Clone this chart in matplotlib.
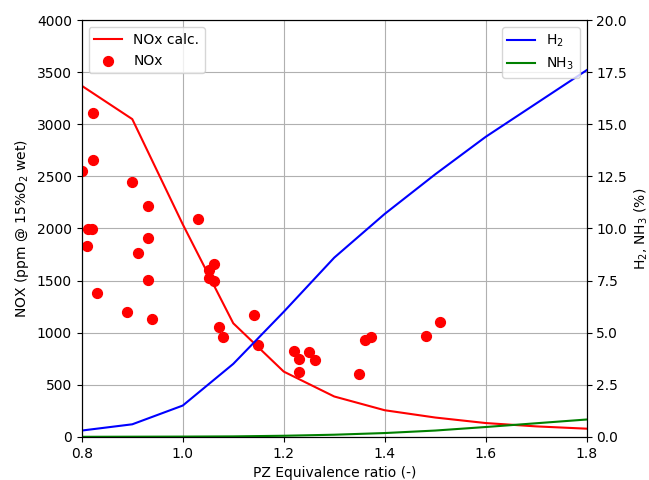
import matplotlib.pyplot as plt

# calculated curves vs equivalence ratio
phi = [0.8, 0.9, 1.0, 1.1, 1.2, 1.3, 1.4, 1.5, 1.6, 1.7, 1.8]
nox_calc = [3370, 3050, 2040, 1090, 626, 387, 255, 185, 132, 100, 78]
h2 = [0.3, 0.6, 1.5, 3.5, 6.0, 8.6, 10.7, 12.6, 14.4, 16.0, 17.6]
nh3 = [0.0, 0.005, 0.01, 0.02, 0.05, 0.1, 0.18, 0.3, 0.47, 0.65, 0.83]

# measured NOx
phi_meas = [0.801, 0.822, 0.822, 0.812, 0.820, 0.810, 0.830, 0.889, 0.900, 0.911,
            0.931, 0.931, 0.931, 0.940, 1.030, 1.051, 1.061, 1.051, 1.061, 1.072,
            1.080, 1.142, 1.150, 1.220, 1.230, 1.230, 1.251, 1.261, 1.350, 1.360,
            1.372, 1.481, 1.510]
nox_meas = [2555, 3105, 2655, 1995, 1995, 1830, 1380, 1195, 2445, 1765,
            2215, 1905, 1505, 1130, 2090, 1605, 1655, 1525, 1500, 1055,
            962, 1167, 885, 828, 748, 626, 818, 740, 605, 930,
            955, 972, 1105]

fig, ax = plt.subplots(figsize=(6.49, 4.80), dpi=100)
fig.subplots_adjust(left=0.126, right=0.904, bottom=0.09, top=0.958)

ax.plot(phi, nox_calc, color='red', label='NOx calc.')
ax.scatter(phi_meas, nox_meas, color='red', s=50, label='NOx', zorder=3)
ax.set_xlim(0.8, 1.8)
ax.set_ylim(0, 4000)
ax.set_xlabel('PZ Equivalence ratio (-)')
ax.set_ylabel('NOX (ppm @ 15%O$_2$ wet)')
ax.grid(True)
ax.legend(loc='upper left')

ax2 = ax.twinx()
ax2.plot(phi, h2, color='blue', label='H$_2$')
ax2.plot(phi, nh3, color='green', label='NH$_3$')
ax2.set_ylim(0, 20)
ax2.set_ylabel('H$_2$, NH$_3$ (%)')
ax2.legend(loc='upper right')

plt.savefig('out.png')
